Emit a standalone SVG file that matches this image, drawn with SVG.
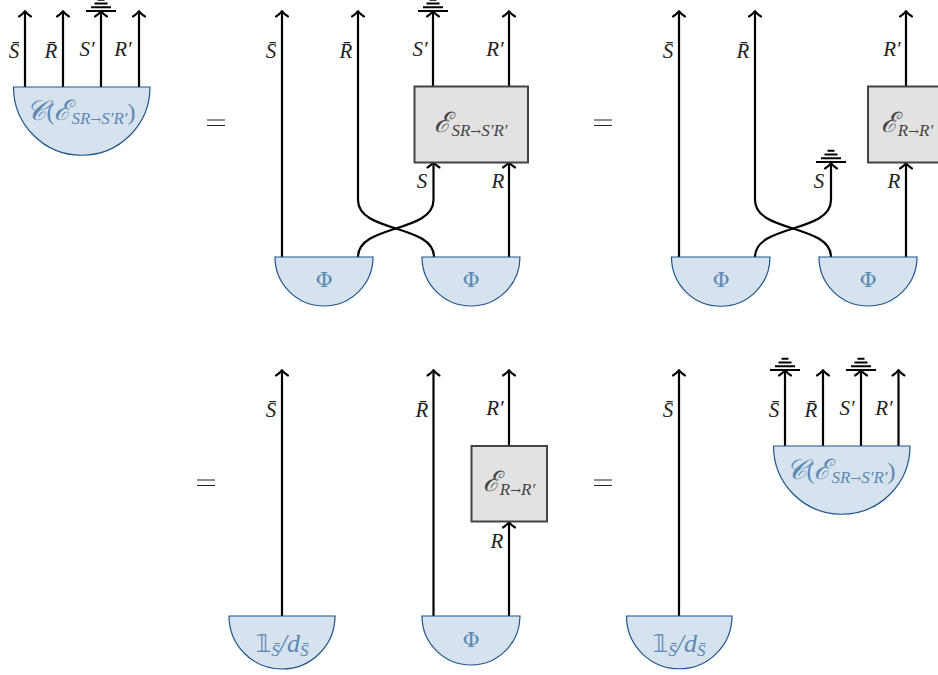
<svg xmlns="http://www.w3.org/2000/svg" width="938" height="675" viewBox="0 0 938 675">
<style>
.w{fill:none;stroke:#000;stroke-width:2.2}
.h{fill:none;stroke:#000;stroke-width:2.100;stroke-linecap:round;stroke-linejoin:round}
.g{fill:none;stroke:#000;stroke-width:2}
.d{fill:#d6e2ee;stroke:#1f5488;stroke-width:1.2}
.b{fill:#e2e2e2;stroke:#444;stroke-width:2}
.e{fill:none;stroke:#222;stroke-width:1}
text{font-family:"Liberation Serif",serif}
.l{font-size:21px;font-style:italic;fill:#222;text-anchor:middle}
.t{font-size:24px;fill:#5c88b4;text-anchor:middle}
.q{font-size:24px;fill:#444;text-anchor:middle}
.c{font-size:28px;font-style:italic}
.s{font-size:17px;font-style:italic}
.a{font-family:"DejaVu Serif",serif;font-size:13px;font-style:normal}
.p{font-family:"DejaVu Serif",serif;font-size:21px;fill:#5c88b4;text-anchor:middle}
.o{font-family:"DejaVu Sans",sans-serif;font-size:25px}
.i{font-size:26px;font-style:italic}
</style>
<defs>
<g id="arrow"><path class="h" d="M-6 5.500Q-2 3 0 0Q2 3 6 5.500"/></g>
<g id="ground"><path class="g" d="M-15 0H15M-10-3.800H10M-6.500-7.500H6.500M-3.500-11.200H3.500"/></g>
</defs>
<g id="connectors">
<path class="w" d="M25 87V12M63 87V12M101 87V12M139 87V12"/>
<path class="w" d="M282 257V12M433 87V12M509 87V12M509 257V162"/>
<path class="w" d="M358 12V200C358 233 434 224 434 257"/>
<path class="w" d="M433.500 162V200C433.500 233 358 224 358 257"/>
<path class="w" d="M679 257V12M906 87V12M906 257V162"/>
<path class="w" d="M755 12V200C755 233 831 224 831 257"/>
<path class="w" d="M831 162V200C831 233 755 224 755 257"/>
<path class="w" d="M282 616V371M433.500 616V371M509 446V371M509 616V521M679 616V371"/>
<path class="w" d="M785 446V371M823 446V371M861 446V371M898.500 446V371"/>
<g>
<use href="#arrow" x="25" y="11"/><use href="#arrow" x="63" y="11"/><use href="#arrow" x="101" y="11"/><use href="#arrow" x="139" y="11"/>
<use href="#arrow" x="282" y="11"/><use href="#arrow" x="358" y="11"/><use href="#arrow" x="433" y="11"/><use href="#arrow" x="509" y="11"/>
<use href="#arrow" x="433.500" y="162"/><use href="#arrow" x="509" y="162"/>
<use href="#arrow" x="679" y="11"/><use href="#arrow" x="755" y="11"/><use href="#arrow" x="906" y="11"/>
<use href="#arrow" x="831" y="163"/><use href="#arrow" x="906" y="163"/>
<use href="#arrow" x="282" y="370"/><use href="#arrow" x="433.500" y="370"/><use href="#arrow" x="509" y="370"/><use href="#arrow" x="509" y="522"/><use href="#arrow" x="679" y="370"/>
<use href="#arrow" x="785" y="370"/><use href="#arrow" x="823" y="370"/><use href="#arrow" x="861" y="370"/><use href="#arrow" x="898.500" y="370"/>
</g>
</g>
<g id="ground-marks">
<use href="#ground" x="101" y="11"/><use href="#ground" x="433" y="11"/><use href="#ground" x="831" y="162"/><use href="#ground" x="785" y="370"/><use href="#ground" x="861" y="370"/>
</g>
<g id="labels">
<text class="l" x="14" y="58">S̄</text><text class="l" x="51" y="58">R̄</text><text class="l" x="87" y="56">S′</text><text class="l" x="123" y="56">R′</text>
<text class="l" x="271" y="58">S̄</text><text class="l" x="346" y="58">R̄</text><text class="l" x="420" y="56">S′</text><text class="l" x="495" y="56">R′</text>
<text class="l" x="422" y="188">S</text><text class="l" x="498" y="188">R</text>
<text class="l" x="668" y="58">S̄</text><text class="l" x="743" y="58">R̄</text><text class="l" x="892" y="56">R′</text>
<text class="l" x="819" y="188">S</text><text class="l" x="894" y="188">R</text>
<text class="l" x="271" y="417">S̄</text><text class="l" x="422" y="417">R̄</text><text class="l" x="495" y="415">R′</text><text class="l" x="497" y="548">R</text><text class="l" x="668" y="417">S̄</text>
<text class="l" x="774" y="417">S̄</text><text class="l" x="811" y="417">R̄</text><text class="l" x="847" y="415">S′</text><text class="l" x="884" y="415">R′</text>
</g>
<g id="equals">
<path class="e" d="M207 120H225M207 125.500H225M594 120H612M594 125.500H612M197 480H215M197 485.500H215M594 480H612M594 485.500H612"/>
</g>
<g id="state-c1"><path class="d" d="M13.500 87H150A68.250 68.250 0 0 1 13.500 87Z"/>
<text class="t" x="81" y="120"><tspan class="c">𝒞</tspan>(<tspan class="c">ℰ</tspan><tspan class="s" dy="4">SR</tspan><tspan class="a">→</tspan><tspan class="s">S′R′</tspan><tspan dy="-4">)</tspan></text></g>
<g id="channel-1"><rect class="b" x="414.500" y="86.500" width="113.500" height="76"/>
<text class="q" x="471" y="132"><tspan class="c">ℰ</tspan><tspan class="s" dy="4">SR</tspan><tspan class="a">→</tspan><tspan class="s">S′R′</tspan></text></g>
<g id="phi-1"><path class="d" d="M275 257H373A49 49 0 0 1 275 257Z"/><text class="p" x="324" y="287">Φ</text></g>
<g id="phi-2"><path class="d" d="M422 257H520A49 49 0 0 1 422 257Z"/><text class="p" x="471" y="287">Φ</text></g>
<g id="channel-2"><rect class="b" x="868" y="86.500" width="76" height="76"/>
<text class="q" x="907" y="132"><tspan class="c">ℰ</tspan><tspan class="s" dy="4">R</tspan><tspan class="a">→</tspan><tspan class="s">R′</tspan></text></g>
<g id="phi-3"><path class="d" d="M671.500 257H770A49.250 49.250 0 0 1 671.500 257Z"/><text class="p" x="721" y="287">Φ</text></g>
<g id="phi-4"><path class="d" d="M819 257H917A49 49 0 0 1 819 257Z"/><text class="p" x="868" y="287">Φ</text></g>
<g id="max-1"><path class="d" d="M229 616H335A53 53 0 0 1 229 616Z"/>
<text class="t" x="282" y="652"><tspan class="o">𝟙</tspan><tspan class="s" dy="4">S̄</tspan><tspan class="i" dy="-4">/d</tspan><tspan class="s" dy="4">S̄</tspan></text></g>
<g id="channel-3"><rect class="b" x="471.500" y="446" width="75.500" height="75.500"/>
<text class="q" x="509" y="491"><tspan class="c">ℰ</tspan><tspan class="s" dy="4">R</tspan><tspan class="a">→</tspan><tspan class="s">R′</tspan></text></g>
<g id="phi-5"><path class="d" d="M422 616H520A49 49 0 0 1 422 616Z"/><text class="p" x="471" y="647">Φ</text></g>
<g id="max-2"><path class="d" d="M626.500 616H732A52.750 52.750 0 0 1 626.500 616Z"/>
<text class="t" x="679" y="652"><tspan class="o">𝟙</tspan><tspan class="s" dy="4">S̄</tspan><tspan class="i" dy="-4">/d</tspan><tspan class="s" dy="4">S̄</tspan></text></g>
<g id="state-c2"><path class="d" d="M773.500 446H910A68.250 68.250 0 0 1 773.500 446Z"/>
<text class="t" x="841" y="479"><tspan class="c">𝒞</tspan>(<tspan class="c">ℰ</tspan><tspan class="s" dy="4">SR</tspan><tspan class="a">→</tspan><tspan class="s">S′R′</tspan><tspan dy="-4">)</tspan></text></g>
</svg>
